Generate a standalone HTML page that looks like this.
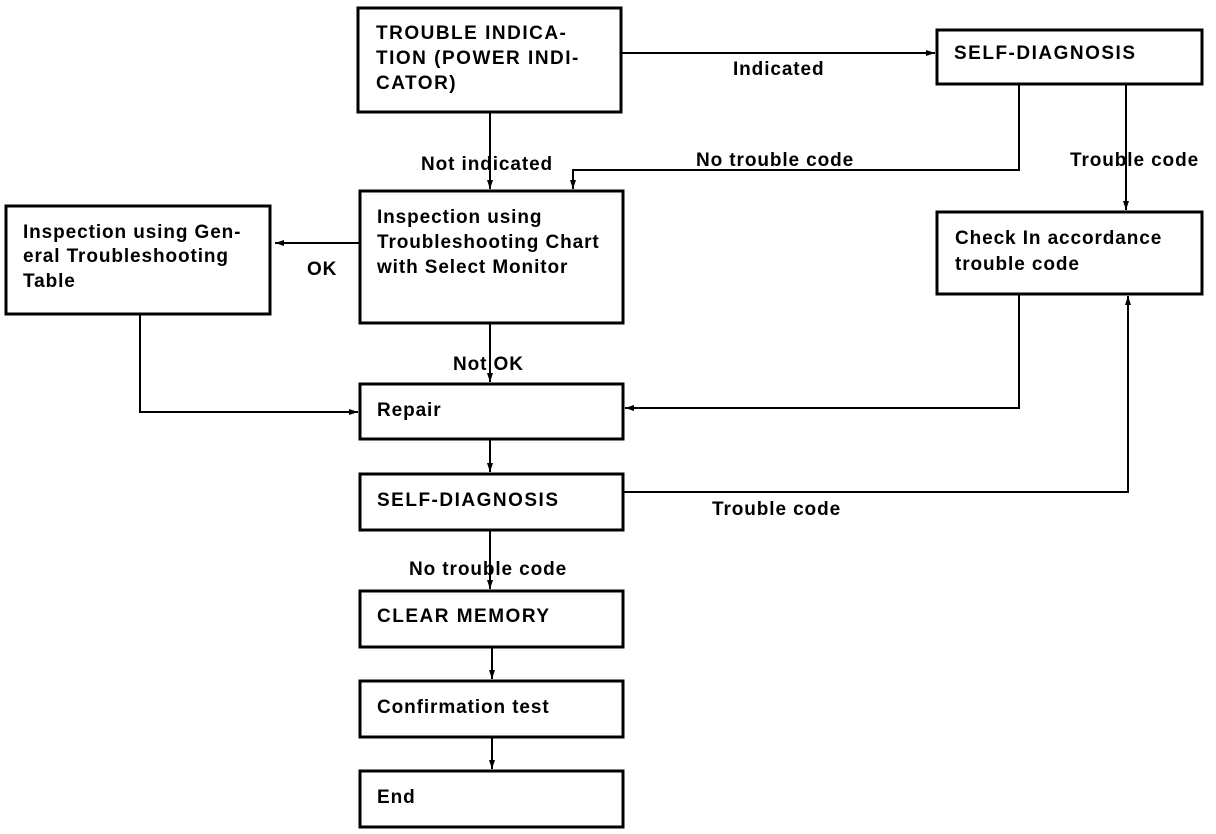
<!DOCTYPE html>
<html><head><style>
html,body{margin:0;padding:0;background:#fff;}
svg{display:block;}
text{font-family:"Liberation Sans",sans-serif;font-weight:bold;font-size:19px;letter-spacing:0.9px;fill:#000;}
</style></head><body>
<svg width="1216" height="834" viewBox="0 0 1216 834">
<defs><marker id="a" markerWidth="10" markerHeight="10" refX="9" refY="5" orient="auto" markerUnits="userSpaceOnUse"><path d="M0,2 L9,5 L0,8 Z" fill="#000"/></marker></defs>
<g fill="none" stroke="#000" stroke-width="3">
<rect x="358" y="8" width="263" height="104"/>
<rect x="937" y="30" width="265" height="54"/>
<rect x="937" y="212" width="265" height="82"/>
<rect x="360" y="191" width="263" height="132"/>
<rect x="6" y="206" width="264" height="108"/>
<rect x="360" y="384" width="263" height="55"/>
<rect x="360" y="474" width="263" height="56"/>
<rect x="360" y="591" width="263" height="56"/>
<rect x="360" y="681" width="263" height="56"/>
<rect x="360" y="771" width="263" height="56"/>
</g>
<g fill="none" stroke="#000" stroke-width="2">
<path d="M621,53 H935" marker-end="url(#a)"/>
<path d="M490,112 V189" marker-end="url(#a)"/>
<path d="M1019,84 V170 H573 V189" marker-end="url(#a)"/>
<path d="M1126,84 V210" marker-end="url(#a)"/>
<path d="M360,243 H275" marker-end="url(#a)"/>
<path d="M140,314 V412 H358" marker-end="url(#a)"/>
<path d="M490,323 V382" marker-end="url(#a)"/>
<path d="M1019,294 V408 H625" marker-end="url(#a)"/>
<path d="M490,439 V472" marker-end="url(#a)"/>
<path d="M623,492 H1128 V296" marker-end="url(#a)"/>
<path d="M490,530 V589" marker-end="url(#a)"/>
<path d="M492,647 V679" marker-end="url(#a)"/>
<path d="M492,737 V769" marker-end="url(#a)"/>
</g>
<text x="376" y="39" style="letter-spacing:1.5px">TROUBLE INDICA-</text>
<text x="376" y="64" style="letter-spacing:1.5px">TION (POWER INDI-</text>
<text x="376" y="89" style="letter-spacing:1.5px">CATOR)</text>
<text x="954" y="59" style="letter-spacing:1.5px">SELF-DIAGNOSIS</text>
<text x="733" y="75">Indicated</text>
<text x="421" y="170">Not indicated</text>
<text x="696" y="166">No trouble code</text>
<text x="1070" y="166">Trouble code</text>
<text x="955" y="244">Check In accordance</text>
<text x="955" y="270">trouble code</text>
<text x="377" y="223">Inspection using</text>
<text x="377" y="248">Troubleshooting Chart</text>
<text x="377" y="273">with Select Monitor</text>
<text x="23" y="238">Inspection using Gen-</text>
<text x="23" y="262">eral Troubleshooting</text>
<text x="23" y="287">Table</text>
<text x="307" y="275">OK</text>
<text x="453" y="370">Not OK</text>
<text x="377" y="416">Repair</text>
<text x="377" y="506" style="letter-spacing:1.5px">SELF-DIAGNOSIS</text>
<text x="712" y="515">Trouble code</text>
<text x="409" y="575">No trouble code</text>
<text x="377" y="622" style="letter-spacing:1.5px">CLEAR MEMORY</text>
<text x="377" y="713">Confirmation test</text>
<text x="377" y="803">End</text>
</svg>
</body></html>
